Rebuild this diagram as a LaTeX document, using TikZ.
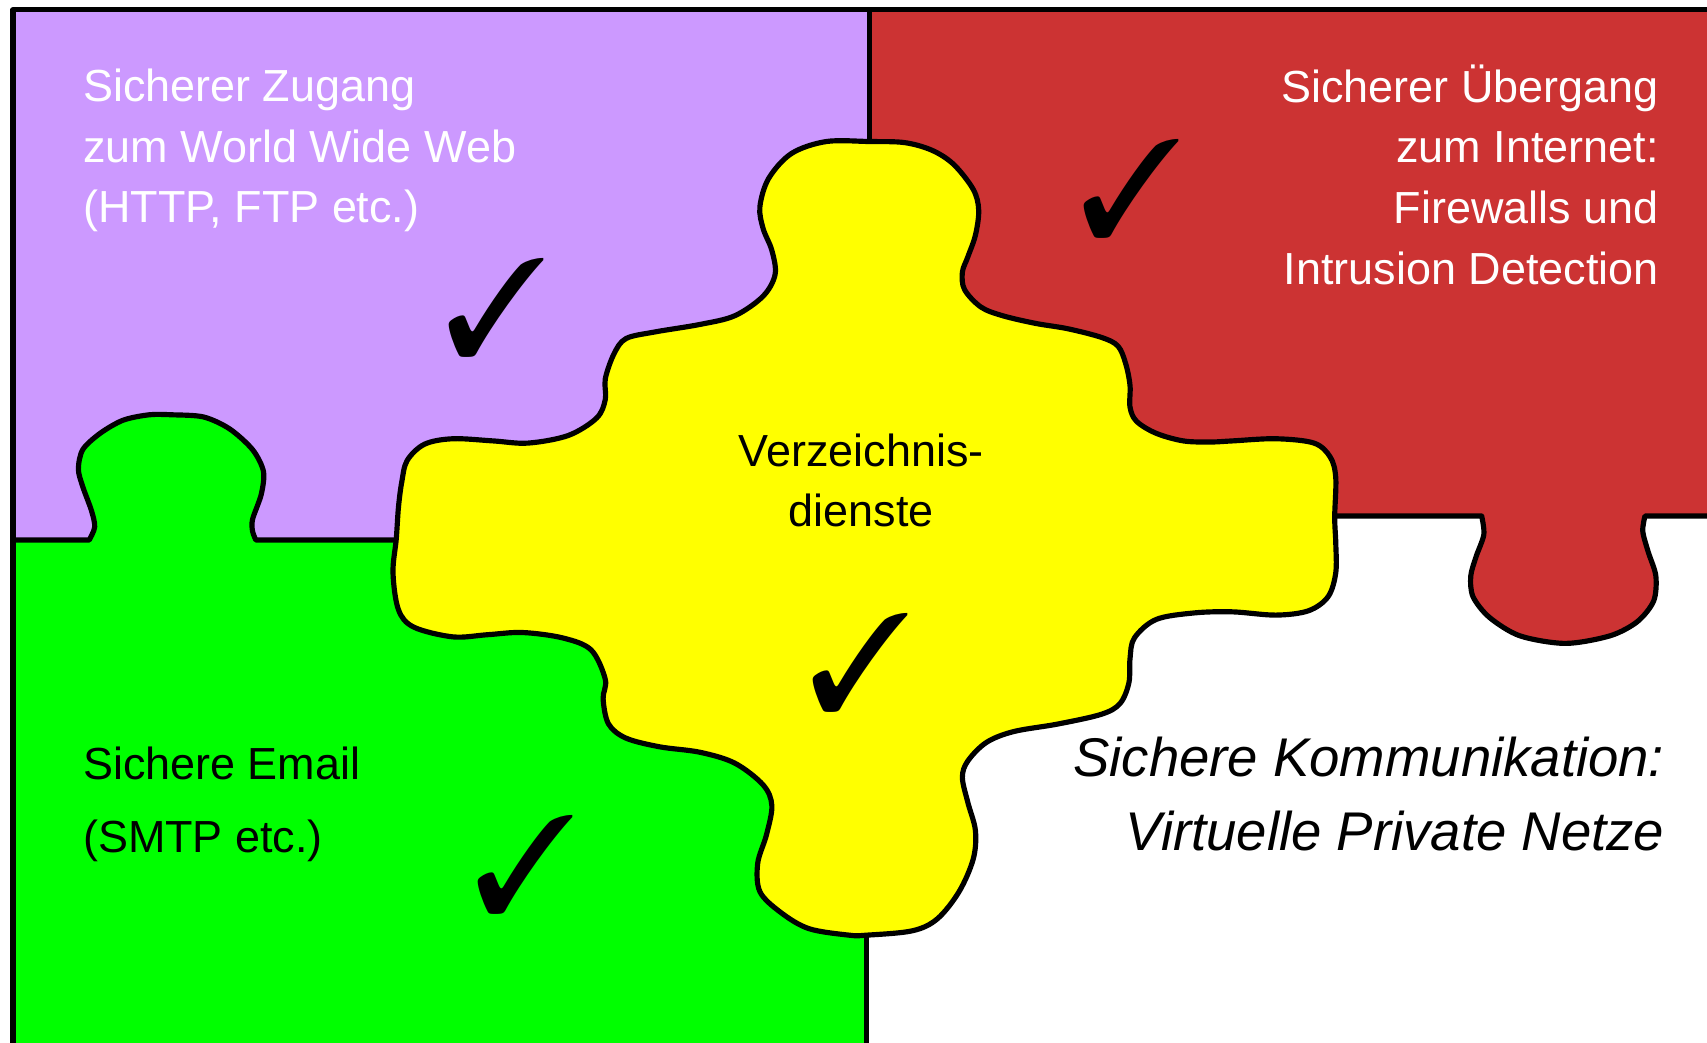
\documentclass[tikz,border=0pt]{standalone}
\usepackage{fontspec}
\setmainfont{Liberation Sans}
\usepackage{pifont}
\usetikzlibrary{positioning}

\definecolor{lila}{RGB}{204,153,255}
\definecolor{rot}{RGB}{204,51,51}
\definecolor{gruen}{RGB}{0,255,0}
\definecolor{gelb}{RGB}{255,255,0}

\begin{document}
\begin{tikzpicture}[x=0.02cm,y=-0.02cm,
  rand/.style={line width=2.7pt,line join=round},
  schrift/.style={inner sep=0pt,font=\fontsize{23.5}{31.7}\selectfont},
  haken/.style={inner sep=0pt,font=\fontsize{72}{72}\selectfont}]
  \useasboundingbox (0,0) rectangle (1568,958);
  \fill[white] (0,0) rectangle (1568,958);

  \fill[lila] (12,9) rectangle (799,496);
  \fill[rot] (799,9) rectangle (1568,474);
  \fill[rot] plot[smooth] coordinates {(1361,470) (1363,491) (1356,511) (1351,529) (1353,548) (1368,567)
    (1396,584) (1438,591) (1479,584) (1504,571) (1519,552) (1521,529) (1514,507) (1509,488) (1511,470)} -- cycle;
  \fill[gruen] (12,496) rectangle (796,958);
  \fill[gruen] plot[smooth] coordinates {(82,500) (87,484) (84,469) (76,447) (72,431) (76,413) (92,398)
    (113,386) (137,381) (158,381) (187,383) (211,394) (232,413) (242,433) (240,454) (232,477) (232,488) (235,500)} -- cycle;

  \draw[rand] (1568,9) -- (12,9) -- (12,958);
  \draw[rand] (799,9) -- (799,140);
  \draw[rand] (796,850) -- (796,958);
  \draw[rand] (12,496) -- plot[smooth] coordinates {(82,496) (87,484) (84,469) (76,447) (72,431) (76,413) (92,398)
    (113,386) (137,381) (158,381) (187,383) (211,394) (232,413) (242,433) (240,454) (232,477) (232,488) (235,496)} -- (370,496);
  \draw[rand] (1220,474) -- plot[smooth] coordinates {(1361,474) (1363,491) (1356,511) (1351,529) (1353,548) (1368,567)
    (1396,584) (1438,591) (1479,584) (1504,571) (1519,552) (1521,529) (1514,507) (1509,488) (1511,474)} -- (1568,474);

  \filldraw[rand,fill=gelb] plot[smooth cycle,tension=0.55] coordinates {
    (759,130) (799,130) (831,131) (856,138) (876,151) (894,174) (899,193) (896,216) (889,236) (884,250)
    (886,266) (901,282) (921,290) (951,297) (981,302) (1012,310) (1027,318) (1034,334) (1038,354) (1038,374)
    (1044,387) (1062,398) (1087,405) (1112,406) (1132,405) (1172,403) (1207,407) (1222,420) (1227,439) (1226,475)
    (1227,499) (1227,526) (1220,548) (1202,561) (1172,565) (1132,562) (1097,563) (1062,569) (1042,586) (1038,605)
    (1037,627) (1029,646) (1012,656) (972,665) (931,672) (906,682) (889,699) (884,714) (889,737) (896,763)
    (894,789) (881,819) (861,844) (838,855) (796,859) (780,859) (743,853) (717,838) (698,819) (696,793)
    (704,767) (709,740) (701,721) (675,701) (643,691) (606,686) (575,678) (559,665) (554,642) (556,624)
    (543,597) (517,586) (480,581) (448,583) (416,585) (380,576) (366,560) (361,526) (364,495) (366,466)
    (369,443) (374,423) (390,408) (416,403) (453,405) (485,407) (522,400) (548,384) (556,367) (556,348)
    (564,325) (575,311) (601,305) (643,298) (675,290) (701,272) (712,252) (709,230) (701,210) (698,190)
    (706,164) (727,141)};

  \node[schrift,text=white,align=left,anchor=north west] (web) at (76,63)
    {Sicherer Zugang\\zum World Wide Web\\(HTTP, FTP etc.)};
  \node[schrift,text=white,align=right,anchor=north east] (internet) at (1524,59)
    {Sicherer Übergang\\zum Internet:\\Firewalls und\\Intrusion Detection};
  \node[schrift,align=center,anchor=north] (verz) at (791,398)
    {Verzeichnis-\\dienste};
  \node[schrift,font=\fontsize{23.5}{38}\selectfont,align=left,anchor=north west] (email) at (76,686)
    {Sichere Email\\(SMTP etc.)};
  \node[schrift,font=\fontsize{28.5}{38.5}\selectfont\itshape,align=right,anchor=north east] (vpn) at (1529,677)
    {Sichere Kommunikation:\\Virtuelle Private Netze};

  \node[haken] (h1) at (456,283) {\ding{51}};
  \node[haken] (h2) at (1039,173) {\ding{51}};
  \node[haken] (h3) at (790,609) {\ding{51}};
  \node[haken] (h4) at (483,794) {\ding{51}};
\end{tikzpicture}
\end{document}
